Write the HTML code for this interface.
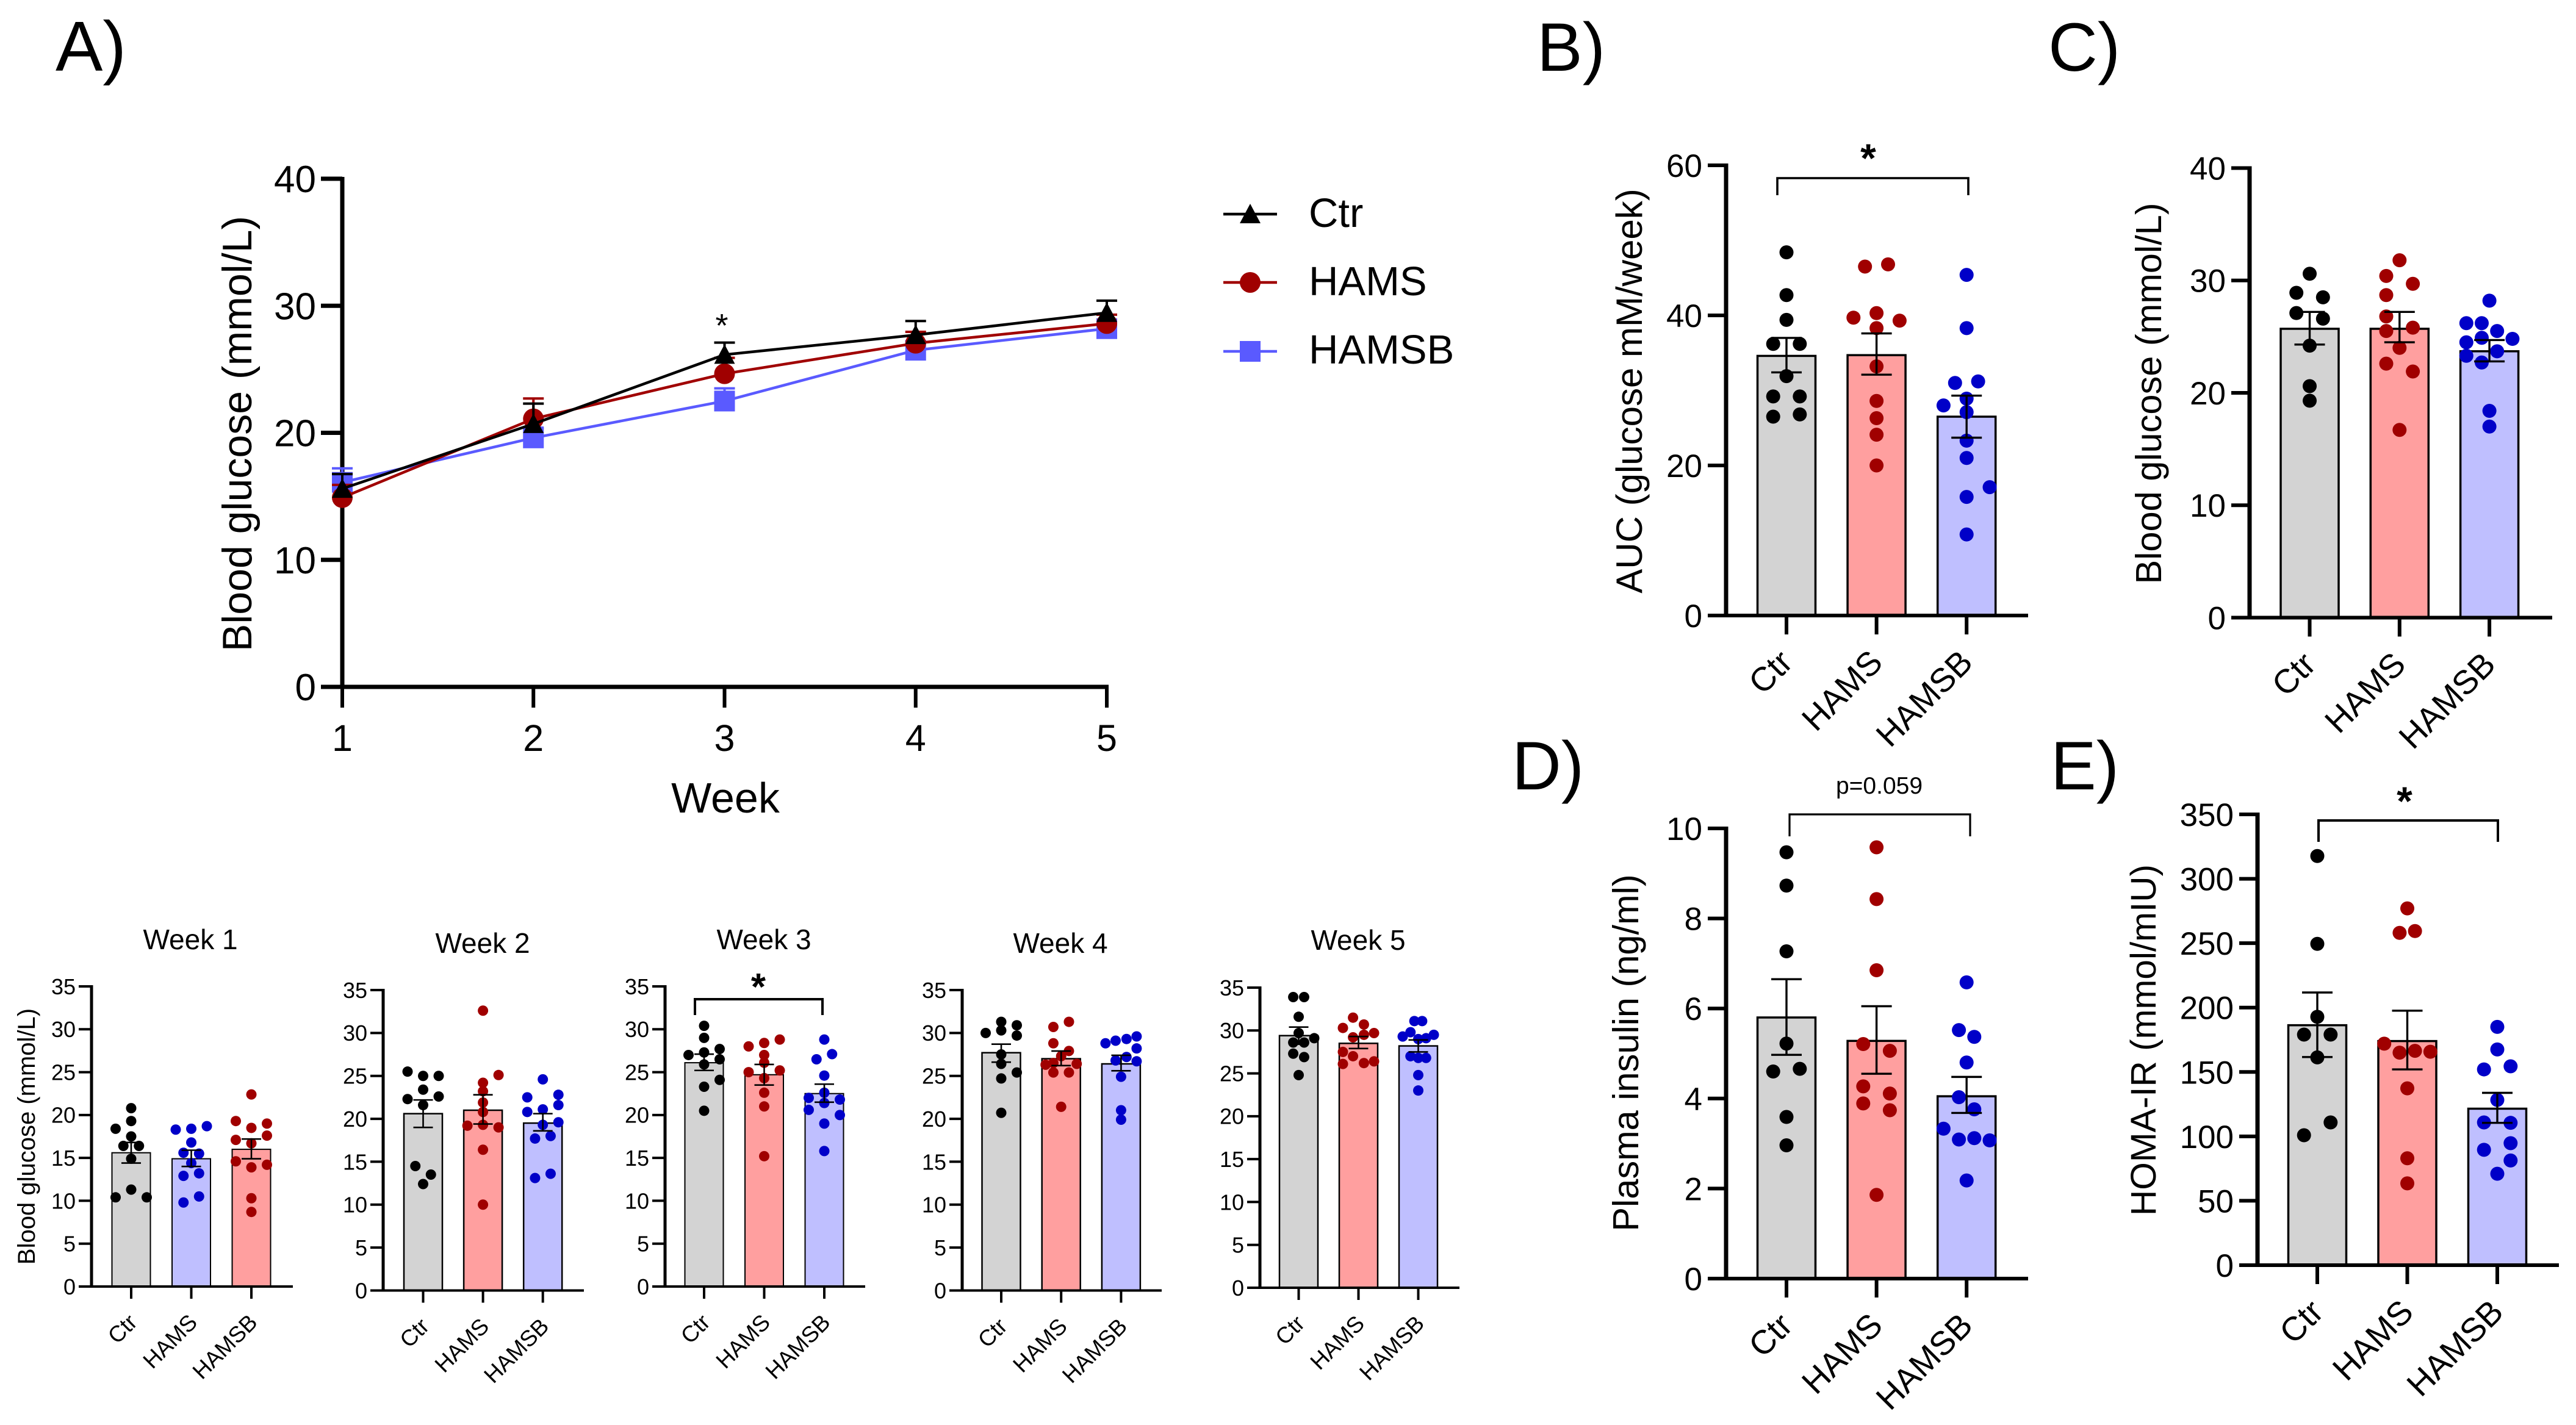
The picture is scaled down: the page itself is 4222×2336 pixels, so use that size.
<!DOCTYPE html>
<html lang="en">
<head>
<meta charset="utf-8">
<title>Blood glucose, insulin and HOMA-IR panels</title>
<style>
html,body{margin:0;padding:0;background:#fff}
svg{display:block}
text{font-family:"Liberation Sans",Arial,sans-serif;fill:#000}
</style>
</head>
<body>
<svg id="figure" width="4222" height="2336" viewBox="0 0 4222 2336">
<rect width="4222" height="2336" fill="#fff"></rect>
</svg>
<script>
// ---------- shared categories and tick labels ----------
const groupLabels = ['Ctr', 'HAMS', 'HAMSB'];
const weekTicks = [1, 2, 3, 4, 5];
const lineTicks = [0, 10, 20, 30, 40];
const smallTicks = [0, 5, 10, 15, 20, 25, 30, 35];
const aucTicks = [0, 20, 40, 60];
const fastTicks = [0, 10, 20, 30, 40];
const insulinTicks = [0, 2, 4, 6, 8, 10];
const homaTicks = [0, 50, 100, 150, 200, 250, 300, 350];

// ---------- panel A line chart ----------
const lineCtrMean = [15.6, 20.7, 26.15, 27.7, 29.45];
const lineCtrUpper = [16.75, 22.3, 27.1, 28.8, 30.4];
const lineHamsMean = [14.9, 21.1, 24.65, 27.05, 28.6];
const lineHamsUpper = [15.9, 22.7, 25.9, 27.95, 29.3];
const lineHamsbMean = [16.1, 19.6, 22.5, 26.5, 28.2];
const lineHamsbUpper = [17.2, 20.4, 23.5, 27.2, 28.8];

// ---------- week 1 (order: grey, blue, red) ----------
const week1Means = [15.6, 14.9, 16.0];
const week1Upper = [16.8, 15.9, 17.2];
const week1Lower = [14.4, 14.0, 14.9];
const week1Values = [
  [20.8, 19.3, 18.4, 17.5, 16.4, 16.4, 14.9, 11.3, 10.4, 10.4],
  [18.3, 18.4, 18.7, 16.8, 15.6, 15.5, 14.4, 12.9, 13.2, 9.8, 10.5],
  [22.4, 19.3, 19.0, 18.5, 17.6, 17.1, 16.7, 14.6, 13.9, 14.2, 10.3, 8.7]
];
const week1Lanes = [
  [0, 0, -2, 0, -1, 1, 0, 0, -2, 2],
  [-2, 0, 2, 0, -1, 1, 0, -1, 1, -1, 1],
  [0, -2, 2, 0, 2, -2, 0, -2, 0, 2, 0, 0]
];

// ---------- week 2 ----------
const week2Means = [20.6, 21.0, 19.5];
const week2Upper = [22.2, 22.8, 20.6];
const week2Lower = [19.0, 19.4, 18.6];
const week2Values = [
  [25.5, 25.0, 25.0, 23.4, 22.6, 22.3, 21.6, 14.5, 13.5, 12.4],
  [32.6, 25.1, 24.2, 23.2, 21.9, 20.8, 19.2, 19.3, 19.0, 16.4, 10.0],
  [24.6, 22.8, 22.5, 21.1, 21.6, 20.8, 19.3, 19.6, 17.7, 18.0, 13.1, 13.6]
];
const week2Lanes = [
  [-2, 0, 2, 0, 2, -2, 0, -1, 1, 0],
  [0, 2, 0, 0, 0, 0, -2, 0, 2, 0, 0],
  [0, 2, -2, 0, 2, -2, 0, 2, -1, 1, -1, 1]
];

// ---------- week 3 ----------
const week3Means = [26.1, 24.7, 22.5];
const week3Upper = [27.1, 25.9, 23.6];
const week3Lower = [25.2, 23.5, 21.5];
const week3Values = [
  [30.4, 29.0, 27.0, 27.3, 27.7, 26.5, 25.9, 24.1, 23.3, 20.5],
  [28.0, 28.4, 28.8, 27.0, 26.1, 25.0, 25.2, 24.3, 22.6, 21.0, 15.2],
  [28.8, 27.1, 26.5, 24.6, 22.6, 22.0, 21.8, 21.4, 20.6, 20.0, 19.0, 15.8]
];
const week3Lanes = [
  [0, 0, -2, 0, 2, 2, 0, 2, 0, 0],
  [-2, 0, 2, 0, 0, -2, 2, 0, 0, 0, 0],
  [0, 1, -1, 0, 0, -2, 2, 0, -2, 2, 0, 0]
];

// ---------- week 4 ----------
const week4Means = [27.7, 27.0, 26.4];
const week4Upper = [28.7, 27.9, 27.4];
const week4Lower = [26.6, 26.2, 25.6];
const week4Values = [
  [31.3, 30.9, 30.0, 30.3, 29.7, 27.5, 26.4, 25.4, 24.7, 20.7],
  [31.3, 30.7, 28.8, 27.9, 27.3, 26.5, 26.3, 26.4, 25.4, 25.4, 21.4],
  [28.8, 29.1, 29.3, 29.6, 28.2, 27.2, 26.8, 26.7, 24.9, 21.0, 19.9]
];
const week4Lanes = [
  [0, 2, -2, 0, 2, 0, 0, 2, 0, 0],
  [1, -1, -1, 1, 0, -1, -2, 2, -1, 1, 0],
  [-2, -0.7, 0.7, 2, 2, 0.7, -0.7, 2, 0, 0, 0]
];

// ---------- week 5 ----------
const week5Means = [29.4, 28.5, 28.2];
const week5Upper = [30.4, 29.3, 28.9];
const week5Lower = [28.4, 27.9, 27.5];
const week5Values = [
  [33.9, 33.9, 31.6, 29.7, 29.1, 28.6, 28.6, 27.3, 26.9, 24.8],
  [31.5, 30.7, 30.3, 29.7, 29.5, 29.2, 27.5, 27.0, 26.4, 26.2, 26.1],
  [31.1, 31.1, 29.3, 29.8, 29.5, 29.1, 29.0, 27.0, 26.8, 26.8, 24.8, 23.0]
];
const week5Lanes = [
  [-0.7, 0.7, 0, 0, 2, -0.7, 0.7, -0.7, 0.7, 0],
  [-0.7, 0.7, -2, 2, 0.7, -0.7, -2, -0.7, 2, 0.7, -2],
  [-0.5, 0.5, -2, -1, 2, 1, 0, -1, 1, 0, 0, 0]
];

// ---------- panel B AUC ----------
const aucMeans = [34.6, 34.7, 26.5];
const aucUpper = [37.0, 37.6, 29.3];
const aucLower = [32.4, 32.1, 23.7];
const aucValues = [
  [48.4, 42.7, 39.4, 36.2, 36.2, 31.9, 29.2, 29.2, 26.5, 26.8],
  [46.5, 46.8, 39.7, 40.3, 39.3, 38.3, 33.2, 28.6, 26.3, 24.1, 20.0],
  [45.4, 38.3, 31.0, 31.2, 28.9, 28.0, 27.1, 23.3, 21.0, 17.1, 15.8, 10.8]
];
const aucLanes = [
  [0, 0, 0, -1.73, 1.73, 0, -1.73, 1.73, -1.73, 1.73],
  [-1.5, 1.5, -3, 0, 3, 0, 0, 0, 0, 0, 0],
  [0, 0, -1.5, 1.5, 0, -3, 0, 0, 0, 3, 0, 0]
];

// ---------- panel C fasting glucose ----------
const fastMeans = [25.7, 25.7, 23.7];
const fastUpper = [27.2, 27.2, 24.7];
const fastLower = [24.3, 24.5, 22.8];
const fastValues = [
  [30.6, 28.9, 28.5, 27.1, 26.6, 24.2, 20.6, 19.3],
  [31.8, 30.4, 29.7, 28.7, 26.8, 25.8, 25.5, 24.0, 22.6, 21.9, 16.7],
  [28.2, 26.2, 26.2, 25.5, 24.8, 24.9, 24.5, 23.7, 23.3, 22.7, 18.4, 17.0]
];
const fastLanes = [
  [0, -1.73, 1.73, -1.73, 1.73, 0, 0, 0],
  [0, -1.73, 1.73, -1.73, -1.73, 1.73, -1.73, 0, -1.73, 1.73, 0],
  [0, -3, -1, 1, 3, -1, -3, 1, -3, -1, 0, 0]
];

// ---------- panel D insulin ----------
const insulinMeans = [5.8, 5.28, 4.05];
const insulinUpper = [6.65, 6.05, 4.48];
const insulinLower = [4.97, 4.55, 3.68];
const insulinValues = [
  [9.47, 8.73, 7.27, 5.22, 4.6, 4.66, 3.59, 2.96],
  [9.58, 8.43, 6.85, 5.21, 5.06, 4.27, 4.11, 3.89, 3.74, 1.86],
  [6.58, 5.52, 5.37, 4.8, 4.03, 3.76, 3.33, 3.09, 3.12, 3.07, 2.18]
];
const insulinLanes = [
  [0, 0, 0, 0, -1.73, 1.73, 0, 0],
  [0, 0, 0, -1.73, 1.73, -1.73, 1.73, -1.73, 1.73, 0],
  [0, -1, 1, 0, -1, 1, -3, -1, 1, 3, 0]
];

// ---------- panel E HOMA-IR ----------
const homaMeans = [186.3, 174, 121.5];
const homaUpper = [211.7, 197.6, 133.8];
const homaLower = [161.6, 152, 110.5];
const homaValues = [
  [317.7, 249.5, 192.8, 179, 179, 161.3, 110.8, 100.9],
  [277, 259.4, 258, 172, 165, 166.4, 165.7, 137.3, 83, 63.5],
  [185, 167.5, 152, 154.4, 128.3, 110.8, 110.5, 89.6, 94.7, 81.3, 71]
];
const homaLanes = [
  [0, 0, 0, -1.73, 1.73, 0, 1.73, -1.73],
  [0, 1, -1, -3, -1, 1, 3, 0, 0, 0],
  [0, 0, -1.73, 1.73, 0, -1.73, 1.73, -1.73, 1.73, 1.73, 0]
];

// ---------- drawing helpers ----------
const svg = document.getElementById('figure');
const svgNS = svg.namespaceURI;
const GREY = '#D3D3D3', RED = '#FF9F9F', BLUE = '#BFBFFF';
const DOT_K = '#000000', DOT_R = '#A00000', DOT_B = '#0000C8', LINE_B = '#5A5AFF';

function mk(parent, tag, attrs, text) {
  const el = document.createElementNS(svgNS, tag);
  for (const k in attrs) el.setAttribute(k, attrs[k]);
  if (text !== undefined) el.textContent = text;
  parent.appendChild(el);
  return el;
}
function label(parent, name, x, y, size, str, extra) {
  const el = mk(parent, 'text', Object.assign({ x: x, y: y, 'font-size': size }, extra || {}), str);
  
  
  return el;
}
function seg(parent, name, x1, y1, x2, y2, color, width) {
  const el = mk(parent, 'line', { x1: x1, y1: y1, x2: x2, y2: y2, stroke: color, 'stroke-width': width });
  
  
  return el;
}

function drawBarChart(c) {
  const g = mk(svg, 'g', {});
  
  
  const yScale = v => c.y0 - (v / c.max) * (c.y0 - c.yTop);
  const xCenter = i => c.x1 + i * c.step;

  if (c.title) label(g, c.name + '-title', c.titleX, c.titleY, c.titleSize, c.title, { 'text-anchor': 'middle' });
  if (c.yTitle) {
    label(g, c.name + '-y-axis-title', 0, 0, c.yTitleSize, c.yTitle, {
      'text-anchor': 'middle',
      transform: 'translate(' + c.yTitleX + ',' + c.yTitleY + ') rotate(-90)'
    });
  }

  // bars
  c.means.forEach((m, i) => {
    const top = yScale(m);
    const bar = mk(g, 'rect', {
      x: xCenter(i) - c.barW / 2, y: top, width: c.barW, height: c.y0 - top,
      fill: c.fills[i], stroke: '#000', 'stroke-width': c.barStroke
    });
    
    
  });

  // individual data points
  c.values.forEach((vals, i) => {
    vals.forEach((v, j) => {
      const dot = mk(g, 'circle', {
        cx: xCenter(i) + c.lanes[i][j] * c.laneW, cy: yScale(v), r: c.r, fill: c.dots[i]
      });
      
      
    });
  });

  // error bars
  c.means.forEach((m, i) => {
    const x = xCenter(i), yu = yScale(c.upper[i]), yl = yScale(c.lower[i]);
    seg(g, 'error-stem-' + groupLabels[i].toLowerCase(), x, yu, x, yl, '#000', c.errStroke);
    seg(g, 'error-cap-upper', x - c.capW / 2, yu, x + c.capW / 2, yu, '#000', c.errStroke);
    seg(g, 'error-cap-lower', x - c.capW / 2, yl, x + c.capW / 2, yl, '#000', c.errStroke);
  });

  // axes
  seg(g, 'y-axis-line', c.ax, c.yTop - c.tickW / 2, c.ax, c.y0, '#000', c.axisW);
  seg(g, 'x-axis-line', c.ax - c.tickL, c.y0, c.xEnd, c.y0, '#000', c.axisW - 1);
  c.ticks.forEach(t => {
    const y = yScale(t);
    seg(g, 'y-tick', c.ax - c.tickL, y, c.ax, y, '#000', c.tickW);
    label(g, 'y-tick-label', c.ax - c.tickL - c.labelGap, y + c.tickSize * 0.358, c.tickSize, String(t), { 'text-anchor': 'end' });
  });
  groupLabels.forEach((name, i) => {
    const x = xCenter(i);
    seg(g, 'x-tick', x, c.y0, x, c.y0 + c.tickD, '#000', c.tickW);
    const bx = x + c.catDx, by = c.y0 + c.tickD + c.catDy;
    label(g, 'x-tick-label', bx, by, c.catSize, name, {
      'text-anchor': 'end',
      transform: 'rotate(-45 ' + bx + ' ' + by + ')'
    });
  });

  // significance bracket
  if (c.bracket) {
    const b = c.bracket;
    const path = mk(g, 'path', {
      d: 'M' + b.x1 + ' ' + b.bottom + 'V' + b.top + 'H' + b.x2 + 'V' + b.bottom,
      fill: 'none', stroke: '#000', 'stroke-width': b.width
    });
    
    
    label(g, 'significance-label', b.textX, b.textY, b.textSize, b.text, {
      'text-anchor': 'middle', 'font-weight': b.bold ? 'bold' : 'normal'
    });
  }
}

const small = {
  max: 35, ticks: smallTicks, barW: 63, barStroke: 2.5, r: 8.5, laneW: 12.75, capW: 32, errStroke: 2.6,
  axisW: 5, tickW: 4, tickL: 21, tickD: 20, tickSize: 36, labelGap: 5, catSize: 37, catDx: 12, catDy: 41
};
const big = {
  barW: 95, barStroke: 3.5, r: 11.5, laneW: 12.6, capW: 50, errStroke: 3.4,
  axisW: 7, tickW: 6, tickL: 30, tickD: 31, tickSize: 53, labelGap: 9, catSize: 55, catDx: 13, catDy: 49
};
const fillsGRB = [GREY, RED, BLUE], dotsKRB = [DOT_K, DOT_R, DOT_B];

// ---------- panel letters ----------
label(svg, 'panel-label-a', 91, 116, 116, 'A)');
label(svg, 'panel-label-b', 2519, 116, 112, 'B)');
label(svg, 'panel-label-c', 3357, 116, 112, 'C)');
label(svg, 'panel-label-d', 2478, 1294, 112, 'D)');
label(svg, 'panel-label-e', 3361, 1294, 112, 'E)');

// ---------- panel A ----------
(function drawLineChart() {
  const g = mk(svg, 'g', {});
  
  
  const xLeft = 561, xRight = 1814, y0 = 1126, yTop = 293, maxY = 40;
  const xScale = w => xLeft + (w - 1) / 4 * (xRight - xLeft);
  const yScale = v => y0 - v / maxY * (y0 - yTop);

  label(g, 'y-axis-title', 0, 0, 68, 'Blood glucose (mmol/L)', {
    'text-anchor': 'middle', transform: 'translate(412,711) rotate(-90)'
  });
  label(g, 'x-axis-title', 1189, 1332, 70, 'Week', { 'text-anchor': 'middle' });
  label(g, 'significance-star', 1183, 552, 54, '*', { 'text-anchor': 'middle' });

  seg(g, 'y-axis-line', xLeft, yTop - 3, xLeft, y0, '#000', 7);
  seg(g, 'x-axis-line', xLeft - 35, y0, xRight + 3, y0, '#000', 7);
  lineTicks.forEach(t => {
    seg(g, 'y-tick', xLeft - 35, yScale(t), xLeft, yScale(t), '#000', 7);
    label(g, 'y-tick-label', xLeft - 43, yScale(t) + 22, 62, String(t), { 'text-anchor': 'end' });
  });
  weekTicks.forEach(w => {
    seg(g, 'x-tick', xScale(w), y0, xScale(w), y0 + 34, '#000', 6);
    label(g, 'x-tick-label', xScale(w), 1231, 61, String(w), { 'text-anchor': 'middle' });
  });

  function marker(parent, kind, name, x, y, color) {
    let el;
    if (kind === 'triangle') {
      el = mk(parent, 'polygon', { points: (x - 17) + ',' + (y + 15) + ' ' + (x + 17) + ',' + (y + 15) + ' ' + x + ',' + (y - 17), fill: color });
    } else if (kind === 'circle') {
      el = mk(parent, 'circle', { cx: x, cy: y, r: 17, fill: color });
    } else {
      el = mk(parent, 'rect', { x: x - 17, y: y - 17, width: 34, height: 34, fill: color });
    }
    
    
  }

  const series = [
    { name: 'hamsb', color: LINE_B, kind: 'square', mean: lineHamsbMean, upper: lineHamsbUpper },
    { name: 'hams', color: DOT_R, kind: 'circle', mean: lineHamsMean, upper: lineHamsUpper },
    { name: 'ctr', color: DOT_K, kind: 'triangle', mean: lineCtrMean, upper: lineCtrUpper }
  ];
  series.forEach(s => {
    s.mean.forEach((m, i) => {
      const x = xScale(weekTicks[i]);
      seg(g, 'error-stem-' + s.name, x, yScale(m), x, yScale(s.upper[i]), s.color, 4);
      seg(g, 'error-cap-' + s.name, x - 17, yScale(s.upper[i]), x + 17, yScale(s.upper[i]), s.color, 4);
    });
    const pts = s.mean.map((m, i) => xScale(weekTicks[i]) + ',' + yScale(m)).join(' ');
    const line = mk(g, 'polyline', { points: pts, fill: 'none', stroke: s.color, 'stroke-width': 4.5 });
    
    
    s.mean.forEach((m, i) => marker(g, s.kind, 'marker-' + s.name, xScale(weekTicks[i]), yScale(m), s.color));
  });

  // legend
  const legend = mk(g, 'g', {});
  
  
  const legendRows = [
    { text: 'Ctr', color: DOT_K, kind: 'triangle', y: 351, base: 372 },
    { text: 'HAMS', color: DOT_R, kind: 'circle', y: 463, base: 484 },
    { text: 'HAMSB', color: LINE_B, kind: 'square', y: 576, base: 596 }
  ];
  legendRows.forEach(r => {
    seg(legend, 'legend-line', 2005, r.y, 2093, r.y, r.color, 4.5);
    marker(legend, r.kind, 'legend-marker', 2049, r.y, r.color);
    label(legend, 'legend-entry', 2145, r.base, 67, r.text);
  });
})();

// ---------- week panels ----------
drawBarChart(Object.assign({}, small, {
  name: 'week-1-chart', title: 'Week 1', titleX: 312, titleY: 1556, titleSize: 46,
  yTitle: 'Blood glucose (mmol/L)', yTitleSize: 40, yTitleX: 57, yTitleY: 1863,
  ax: 150, yTop: 1617, y0: 2109, xEnd: 480, x1: 215, step: 98.5,
  fills: [GREY, BLUE, RED], dots: [DOT_K, DOT_B, DOT_R], barStroke: 2,
  means: week1Means, upper: week1Upper, lower: week1Lower, values: week1Values, lanes: week1Lanes
}));
drawBarChart(Object.assign({}, small, {
  name: 'week-2-chart', title: 'Week 2', titleX: 791, titleY: 1562, titleSize: 46,
  ax: 628, yTop: 1623, y0: 2115.5, xEnd: 957, x1: 693.5, step: 98.1,
  fills: fillsGRB, dots: dotsKRB,
  means: week2Means, upper: week2Upper, lower: week2Lower, values: week2Values, lanes: week2Lanes
}));
drawBarChart(Object.assign({}, small, {
  name: 'week-3-chart', title: 'Week 3', titleX: 1252, titleY: 1556, titleSize: 46,
  ax: 1090, yTop: 1617, y0: 2109, xEnd: 1418, x1: 1154, step: 98.5,
  fills: fillsGRB, dots: dotsKRB, barStroke: 2,
  means: week3Means, upper: week3Upper, lower: week3Lower, values: week3Values, lanes: week3Lanes,
  bracket: { x1: 1139, x2: 1348, top: 1638, bottom: 1664, width: 4, text: '*', textX: 1243, textY: 1639, textSize: 62, bold: true }
}));
drawBarChart(Object.assign({}, small, {
  name: 'week-4-chart', title: 'Week 4', titleX: 1738, titleY: 1562, titleSize: 46,
  ax: 1577, yTop: 1623, y0: 2115.5, xEnd: 1904, x1: 1641, step: 98.2,
  fills: fillsGRB, dots: dotsKRB,
  means: week4Means, upper: week4Upper, lower: week4Lower, values: week4Values, lanes: week4Lanes
}));
drawBarChart(Object.assign({}, small, {
  name: 'week-5-chart', title: 'Week 5', titleX: 2226, titleY: 1557, titleSize: 46,
  ax: 2065, yTop: 1619, y0: 2111, xEnd: 2392, x1: 2128.5, step: 98,
  fills: fillsGRB, dots: dotsKRB,
  means: week5Means, upper: week5Upper, lower: week5Lower, values: week5Values, lanes: week5Lanes
}));

// ---------- panels B-E ----------
drawBarChart(Object.assign({}, big, {
  name: 'auc-chart', max: 60, ticks: aucTicks,
  yTitle: 'AUC (glucose mM/week)', yTitleSize: 60, yTitleX: 2691, yTitleY: 641,
  ax: 2829, yTop: 271, y0: 1009, xEnd: 3324, x1: 2928, step: 147.6,
  fills: fillsGRB, dots: dotsKRB,
  means: aucMeans, upper: aucUpper, lower: aucLower, values: aucValues, lanes: aucLanes,
  bracket: { x1: 2913, x2: 3226, top: 292, bottom: 320, width: 3.6, text: '*', textX: 3062, textY: 282, textSize: 66, bold: true }
}));
drawBarChart(Object.assign({}, big, {
  name: 'fasting-glucose-chart', max: 40, ticks: fastTicks,
  yTitle: 'Blood glucose (mmol/L)', yTitleSize: 59.5, yTitleX: 3542, yTitleY: 645,
  ax: 3687, yTop: 275.5, y0: 1012.5, xEnd: 4183, x1: 3785.5, step: 147.3,
  fills: fillsGRB, dots: dotsKRB,
  means: fastMeans, upper: fastUpper, lower: fastLower, values: fastValues, lanes: fastLanes
}));
drawBarChart(Object.assign({}, big, {
  name: 'plasma-insulin-chart', max: 10, ticks: insulinTicks,
  yTitle: 'Plasma insulin (ng/ml)', yTitleSize: 59.5, yTitleX: 2685, yTitleY: 1726,
  ax: 2829, yTop: 1358, y0: 2096, xEnd: 3324, x1: 2928, step: 147.6,
  fills: fillsGRB, dots: dotsKRB,
  means: insulinMeans, upper: insulinUpper, lower: insulinLower, values: insulinValues, lanes: insulinLanes,
  bracket: { x1: 2933, x2: 3229, top: 1335, bottom: 1371, width: 3.2, text: 'p=0.059', textX: 3080, textY: 1301, textSize: 39, bold: false }
}));
drawBarChart(Object.assign({}, big, {
  name: 'homa-ir-chart', max: 350, ticks: homaTicks,
  yTitle: 'HOMA-IR (mmol/mIU)', yTitleSize: 58.6, yTitleX: 3533, yTitleY: 1705,
  ax: 3700, yTop: 1335, y0: 2074, xEnd: 4194, x1: 3798, step: 147.5,
  fills: fillsGRB, dots: dotsKRB,
  means: homaMeans, upper: homaUpper, lower: homaLower, values: homaValues, lanes: homaLanes,
  bracket: { x1: 3800, x2: 4094, top: 1345, bottom: 1380, width: 4, text: '*', textX: 3941, textY: 1336, textSize: 66, bold: true }
}));
</script>
</body>
</html>
